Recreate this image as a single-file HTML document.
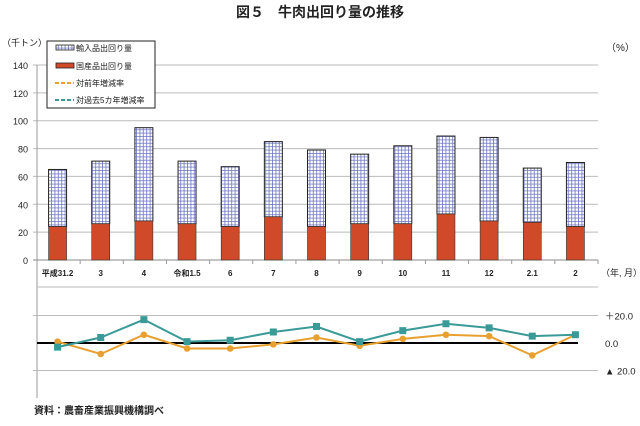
<!DOCTYPE html>
<html><head><meta charset="utf-8">
<style>
body{margin:0;background:#fff;}
svg text{font-family:"Liberation Sans","Noto Sans CJK JP",sans-serif;}
</style></head>
<body>
<svg id="chart" width="640" height="421" viewBox="0 0 640 421" xmlns="http://www.w3.org/2000/svg">
<defs>
<pattern id="hatch" width="3.4" height="3.4" patternUnits="userSpaceOnUse">
<rect width="3.4" height="3.4" fill="#fff"/>
<path d="M0 0.5H3.4M0.5 0V3.4" stroke="#6a74c0" stroke-width="0.8"/>
</pattern>
</defs>
<text x="320" y="17" text-anchor="middle" font-size="14" font-weight="bold" fill="#222">図５　牛肉出回り量の推移</text>
<text x="2" y="46" font-size="9" fill="#222">（千トン）</text>
<text x="606" y="51" font-size="10" fill="#222">（%）</text>
<text x="601" y="276" font-size="9" fill="#222">（年, 月）</text>
<text x="34" y="414" font-size="10" font-weight="bold" fill="#222">資料：農畜産業振興機構調べ</text>
<g id="grid"></g>
<g id="bars"></g>
<g id="lines"></g>
<g>
<rect x="47" y="41" width="108" height="67" fill="#fff" stroke="#222" stroke-width="1"/>
<rect x="56" y="45" width="18" height="5" fill="url(#hatch)" stroke="#222" stroke-width="0.8"/>
<text x="76" y="51" font-size="8" fill="#222">輸入品出回り量</text>
<rect x="56" y="63" width="18" height="5" fill="#d04a2a" stroke="#222" stroke-width="0.8"/>
<text x="76" y="69" font-size="8" fill="#222">国産品出回り量</text>
<line x1="55" y1="83" x2="74" y2="83" stroke="#e8a030" stroke-width="2" stroke-dasharray="4 2"/>
<text x="76" y="86" font-size="8" fill="#222">対前年増減率</text>
<line x1="55" y1="100" x2="74" y2="100" stroke="#3a9a98" stroke-width="2" stroke-dasharray="4 2"/>
<text x="76" y="103" font-size="8" fill="#222">対過去5カ年増減率</text>
</g>
</svg>
<script>
const categories=["平成31.2","3","4","令和1.5","6","7","8","9","10","11","12","2.1","2"];
const totalSupply=[65,71,95,71,67,85,79,76,82,89,88,66,70];
const domesticSupply=[24,26,28,26,24,31,24,26,26,33,28,27,24];
const yoyRate=[1,-8,6,-4,-4,-1,4,-2,3,6,5,-9,6];
const fiveYearRate=[-3,4,17,1,2,8,12,1,9,14,11,5,6];
const leftTicks=[0,20,40,60,80,100,120,140];
const rightTicks=["＋20.0","0.0","▲ 20.0"];
const rightTickValues=[20,0,-20];

const NS="http://www.w3.org/2000/svg";
const X0=37,X1=598;
const step=(X1-X0)/categories.length;
const xc=i=>X0+step*(i+0.5)-1;
const yTop=v=>260-v*(195/140);
const yBot=v=>343-v*(27.5/20);
function mk(tag,attrs,parent){const e=document.createElementNS(NS,tag);for(const k in attrs)e.setAttribute(k,attrs[k]);parent.appendChild(e);return e;}
const grid=document.getElementById('grid'),bars=document.getElementById('bars'),lines=document.getElementById('lines');

leftTicks.forEach(v=>{
  const y=yTop(v);
  const l=mk('line',{x1:X0-4,y1:y,x2:X1,y2:y,stroke:v===0?'#888':'#bbb','stroke-width':1},grid);
  
  
  const t=mk('text',{x:28,y:y+4,'text-anchor':'end','font-size':9,fill:'#222'},grid);
  t.textContent=v;
  
  
});
mk('line',{x1:X0,y1:yTop(140),x2:X0,y2:398,stroke:'#999','stroke-width':1},grid);
mk('line',{x1:X0,y1:287,x2:X1,y2:287,stroke:'#bbb','stroke-width':1},grid);
rightTickValues.forEach((v,i)=>{
  const y=yBot(v);
  if(v!==0){const l=mk('line',{x1:X0-4,y1:y,x2:X1,y2:y,stroke:'#bbb','stroke-width':1},grid);
  
  }
  const t=mk('text',{x:605,y:y+4,'font-size':9.5,fill:'#222'},grid);
  t.textContent=rightTicks[i];
  
  
});
for(let i=0;i<=categories.length;i++){mk('line',{x1:X0+step*i,y1:260,x2:X0+step*i,y2:264,stroke:'#999'},grid);}
categories.forEach((c,i)=>{
  const t=mk('text',{x:xc(i),y:276,'text-anchor':'middle','font-size':8,'font-weight':'bold',fill:'#222'},grid);
  t.textContent=c;
  
  
});
const bw=18;
categories.forEach((c,i)=>{
  const imp=mk('rect',{x:xc(i)-bw/2,y:yTop(totalSupply[i]),width:bw,height:yTop(domesticSupply[i])-yTop(totalSupply[i]),fill:'url(#hatch)',stroke:'#222','stroke-width':1},bars);
  
  
  const dom=mk('rect',{x:xc(i)-bw/2,y:yTop(domesticSupply[i]),width:bw,height:260-yTop(domesticSupply[i]),fill:'#d04a2a',stroke:'#333','stroke-width':0.6},bars);
  
  
});
const zl=mk('line',{x1:X0,y1:yBot(0),x2:578,y2:yBot(0),stroke:'#000','stroke-width':2},lines);


function series(vals,color,shape,name){
  const p=mk('polyline',{points:vals.map((v,i)=>xc(i)+','+yBot(v)).join(' '),fill:'none',stroke:color,'stroke-width':2},lines);
  
  
  vals.forEach((v,i)=>{
    let m;
    if(shape==='sq') m=mk('rect',{x:xc(i)-3.5,y:yBot(v)-3.5,width:7,height:7,fill:color},lines);
    else m=mk('circle',{cx:xc(i),cy:yBot(v),r:3.3,fill:color},lines);
    
    
  });
}
series(yoyRate,'#e8a030','circ','yoy-rate');
series(fiveYearRate,'#3a9a98','sq','five-year-rate');
</script>
</body></html>
